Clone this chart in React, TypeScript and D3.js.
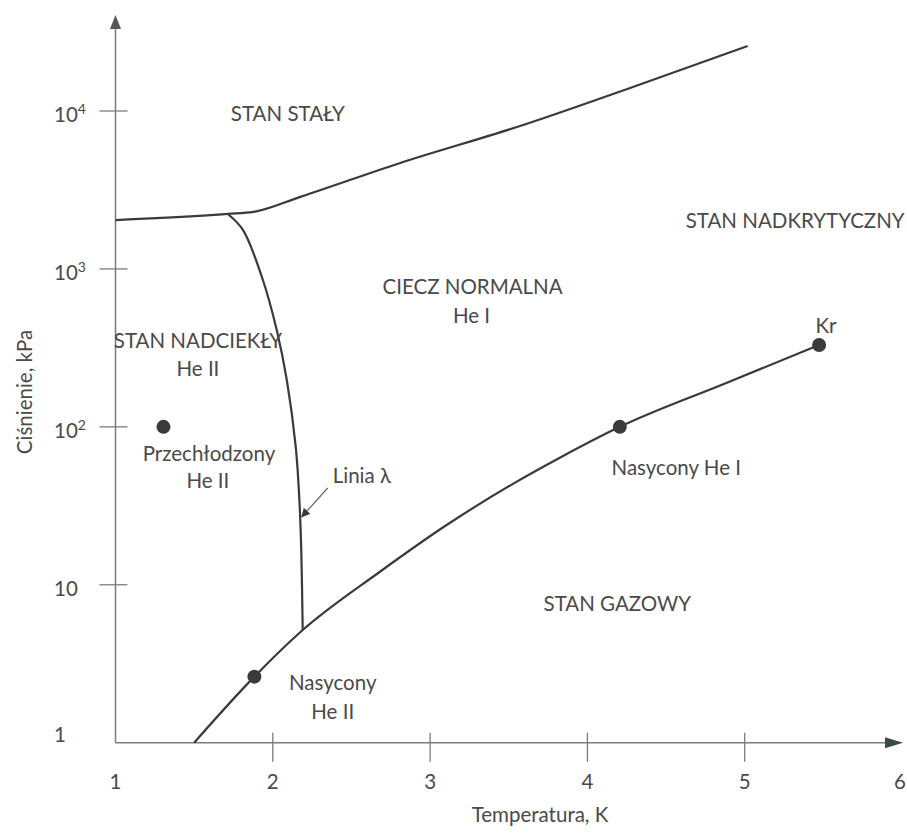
import React from 'react';
import * as d3 from 'd3';

const W = 907;
const H = 834;

// Melting (solid / liquid) curve
const meltingT = [1.0, 1.717, 1.876, 2.175, 2.81, 3.552, 4.289, 5.019];
const meltingP = [2040, 2230, 2295, 2860, 4690, 7920, 14200, 25800];

// Lambda line
const lambdaT = [1.714, 1.81, 1.937, 2.025, 2.089, 2.146, 2.168, 2.181, 2.19];
const lambdaP = [2228, 1766, 851, 410, 198, 74.5, 35.9, 16.6, 5.17];

// Saturation (vapour pressure) curve
const vaporT = [1.5, 1.883, 2.19, 2.679, 3.105, 3.524, 3.822, 4.206, 4.883, 5.473];
const vaporP = [1, 2.62, 5.17, 12.05, 23.9, 43.4, 63.5, 100, 189.6, 330];

// Marked states
const pointT = [1.305, 1.883, 4.206, 5.473];
const pointP = [100, 2.62, 100, 330];

// Axis ticks / labels
const xTicks = [2, 3, 4, 5];
const xLabels = [1, 2, 3, 4, 5, 6];
const yTicks = [10, 100, 1000, 10000];
const yLabelValues = [1, 10, 100, 1000, 10000];
const yLabelBase = ['1', '10', '10', '10', '10'];
const yLabelSup = ['', '', '2', '3', '4'];

// Region annotations (positioned in data coordinates)
const labelText = [
  'STAN STAŁY',
  'STAN NADKRYTYCZNY',
  'CIECZ NORMALNA',
  'He I',
  'STAN NADCIEKŁY',
  'He II',
  'Przechłodzony',
  'He II',
  'Nasycony He I',
  'Kr',
  'STAN GAZOWY',
  'Nasycony',
  'He II',
];
const labelT = [2.095, 5.321, 3.27, 3.263, 1.524, 1.524, 1.594, 1.587, 4.565, 5.517, 4.19, 2.381, 2.381];
const labelP = [8650, 1815, 693, 455, 316, 210, 60.8, 41.0, 49.5, 393, 6.82, 2.16, 1.41];

const lambdaLabel = 'Linia λ';
const lambdaLabelT = 2.381;
const lambdaLabelP = 44.2;
const lambdaArrowT = [2.349, 2.184];
const lambdaArrowP = [41.0, 26.9];

const FONT = 'Lato, "Open Sans", sans-serif';
const FS = 20.5;
const TEXT = '#4a4a4a';
const AXIS = '#7c7c7c';
const CURVE = '#3a3a3a';

export default function App() {
  const x = d3.scaleLinear().domain([1, 6]).range([115.5, 902]);
  const y = d3.scaleLog().domain([1, 10000]).range([742.7, 111]);

  const x0 = x(1);
  const y0 = y(1);
  const xEnd = 903;
  const yTop = 15;

  const toPts = (ts: number[], ps: number[]) => ts.map((t, i) => [t, ps[i]] as [number, number]);

  const lineMono = d3
    .line<[number, number]>()
    .x((d) => x(d[0]))
    .y((d) => y(d[1]))
    .curve(d3.curveMonotoneX);
  const lineCR = d3
    .line<[number, number]>()
    .x((d) => x(d[0]))
    .y((d) => y(d[1]))
    .curve(d3.curveCatmullRom.alpha(0.5));

  const melting = lineMono(toPts(meltingT, meltingP)) || '';
  const lambda = lineCR(toPts(lambdaT, lambdaP)) || '';
  const vapor = lineMono(toPts(vaporT, vaporP)) || '';

  const ax1 = x(lambdaArrowT[0]);
  const ay1 = y(lambdaArrowP[0]);
  const ax2 = x(lambdaArrowT[1]);
  const ay2 = y(lambdaArrowP[1]);

  return (
    <svg
      width={W}
      height={H}
      viewBox={`0 0 ${W} ${H}`}
      style={{ position: 'absolute', left: 0, top: 0, background: '#fff' }}
    >
      <defs>
        <marker id="arrowHead" viewBox="0 0 10 10" refX="9" refY="5" markerWidth="9" markerHeight="9" markerUnits="userSpaceOnUse" orient="auto">
          <path d="M0,0 L10,5 L0,10 z" fill={CURVE} />
        </marker>
      </defs>
      <rect x={0} y={0} width={W} height={H} fill="#fff" />

      {/* axes */}
      <line x1={x0} y1={y0} x2={xEnd - 12} y2={y0} stroke={AXIS} strokeWidth={1.5} />
      <path d={`M${xEnd},${y0} L${xEnd - 18},${y0 - 5.5} L${xEnd - 18},${y0 + 5.5} Z`} fill="#3d4a4a" />
      <line x1={x0} y1={y0} x2={x0} y2={yTop + 10} stroke={AXIS} strokeWidth={1.5} />
      <path d={`M${x0},${yTop} L${x0 - 5.5},${yTop + 14} L${x0 + 5.5},${yTop + 14} Z`} fill="#555" />

      {xTicks.map((t) => (
        <line key={'xt' + t} x1={x(t)} x2={x(t)} y1={y0 - 10} y2={y0 + 19} stroke={AXIS} strokeWidth={1.3} />
      ))}
      {yTicks.map((v) => (
        <line key={'yt' + v} x1={x0 - 16} x2={x0 + 12} y1={y(v)} y2={y(v)} stroke={AXIS} strokeWidth={1.3} />
      ))}

      {xLabels.map((t) => (
        <text key={'xl' + t} x={Math.min(x(t), 900)} y={y0 + 46} textAnchor="middle" fontFamily={FONT} fontSize={FS} fill={TEXT}>
          {t}
        </text>
      ))}
      {yLabelValues.map((v, i) => (
        <text key={'yl' + v} x={54} y={v === 1 ? y(v) - 1 : y(v) + 11} fontFamily={FONT} fontSize={FS} fill={TEXT}>
          {yLabelBase[i]}
          {yLabelSup[i] ? (
            <tspan dy={-8} fontSize={14}>
              {yLabelSup[i]}
            </tspan>
          ) : null}
        </text>
      ))}

      <text x={540} y={822} textAnchor="middle" fontFamily={FONT} fontSize={FS} fill={TEXT}>
        Temperatura, K
      </text>
      <text
        transform={`translate(32, 392) rotate(-90)`}
        textAnchor="middle"
        fontFamily={FONT}
        fontSize={FS}
        fill={TEXT}
      >
        Ciśnienie, kPa
      </text>

      {/* phase boundaries */}
      <path d={melting} fill="none" stroke={CURVE} strokeWidth={2.2} strokeLinejoin="round" />
      <path d={lambda} fill="none" stroke={CURVE} strokeWidth={2.2} />
      <path d={vapor} fill="none" stroke={CURVE} strokeWidth={2.2} />

      {pointT.map((t, i) => (
        <circle key={'pt' + i} cx={x(t)} cy={y(pointP[i])} r={7} fill={CURVE} />
      ))}

      {labelText.map((s, i) => (
        <text key={'lb' + i} x={x(labelT[i])} y={y(labelP[i])} textAnchor="middle" fontFamily={FONT} fontSize={FS} fill={TEXT}>
          {s}
        </text>
      ))}

      <text x={x(lambdaLabelT)} y={y(lambdaLabelP)} fontFamily={FONT} fontSize={FS} fill={TEXT}>
        {lambdaLabel}
      </text>
      <line x1={ax1} y1={ay1} x2={ax2} y2={ay2} stroke="#666" strokeWidth={1.2} markerEnd="url(#arrowHead)" />
    </svg>
  );
}
